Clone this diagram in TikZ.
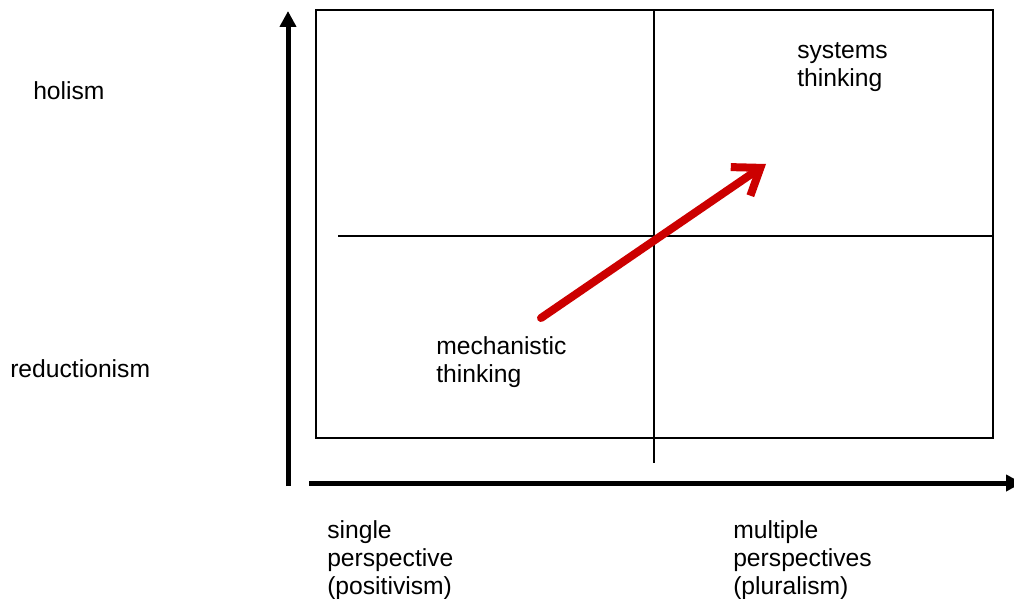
\documentclass[tikz,border=0pt]{standalone}
\usepackage{fontspec}
\setmainfont{Liberation Sans}
\usetikzlibrary{arrows.meta}
\definecolor{arrowred}{RGB}{204,0,0}
\begin{document}
\begin{tikzpicture}[x=0.75pt,y=-0.75pt,
  lbl/.style={anchor=base west,inner sep=0pt,align=left,font=\fontsize{18.5}{21}\selectfont},
  axis/.style={line width=3.75pt,-{Triangle[length=12pt,width=12pt]}},
  gridline/.style={line width=1.1pt}]
\useasboundingbox (0,0) rectangle (1014,599);
% axes
\coordinate (vbot) at (288,486);
\coordinate (vtop) at (288,11);
\coordinate (hleft) at (309,483);
\coordinate (hright) at (1022,483);
\draw [axis] (vbot)--(vtop);
\draw [axis] (hleft)--(hright);
% quadrants
\draw [gridline] (316,10) rectangle (993,438);
\coordinate (ctop) at (654,10);
\coordinate (cbot) at (654,463);
\coordinate (cleft) at (338,236);
\coordinate (cright) at (993,236);
\draw [gridline] (ctop)--(cbot);
\draw [gridline] (cleft)--(cright);
% labels (base = last line)
\node [lbl] (holism) at (33,100) {holism};
\node [lbl] (reduct) at (10,377) {reductionism};
\node [lbl] (mech) at (436,382) {mechanistic\\thinking};
\node [lbl] (sys) at (797,87) {systems\\thinking};
\node [lbl] (single) at (327,594) {single\\perspective\\(positivism)};
\node [lbl] (multi) at (733,594) {multiple\\perspectives\\(pluralism)};
% shift
\coordinate (from) at (541,318);
\coordinate (to) at (766,164);
\draw [arrowred,line width=6pt,line cap=round,-{Straight Barb[length=18pt,width=26pt]}] (from)--(to);
\end{tikzpicture}
\end{document}
